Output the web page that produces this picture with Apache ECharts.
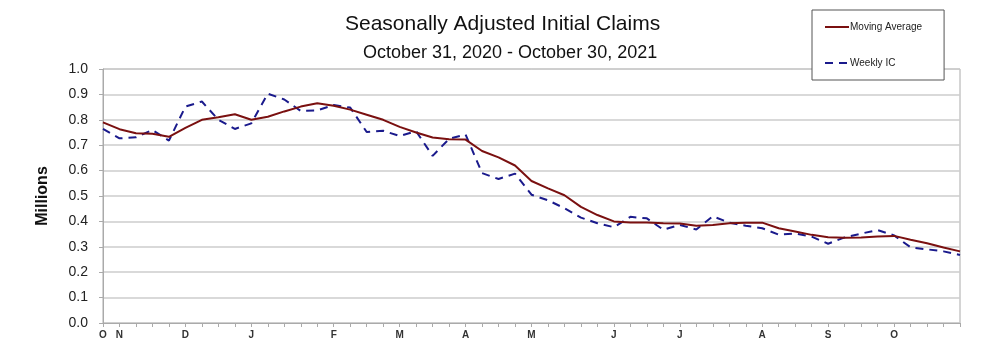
<!DOCTYPE html>
<html>
<head>
<meta charset="utf-8">
<script src="https://cdn.jsdelivr.net/npm/echarts@6/dist/echarts.min.js"></script>
<style>
  html, body { margin: 0; padding: 0; background: #fff; }
  #chart { width: 984px; height: 351px; }
</style>
</head>
<body>
<div id="chart"></div>
<script>
// weekly labels, only month starts carry a letter
const weekLabels = [
  'O', 'N', '', '', '', 'D', '', '', '', 'J', '', '', '', '', 'F', '', '', '', 'M', '', '', '',
  'A', '', '', '', 'M', '', '', '', '', 'J', '', '', '', 'J', '', '', '', '', 'A', '', '', '',
  'S', '', '', '', 'O', '', '', '', ''
];

// millions
const movingAverage = [
  0.790, 0.763, 0.747, 0.745, 0.733, 0.768, 0.800, 0.810, 0.822, 0.800, 0.812, 0.833, 0.852,
  0.865, 0.855, 0.840, 0.820, 0.800, 0.772, 0.750, 0.730, 0.723, 0.722, 0.677, 0.652, 0.620,
  0.559, 0.530, 0.503, 0.457, 0.425, 0.400, 0.396, 0.396, 0.393, 0.392, 0.383, 0.386, 0.393,
  0.395, 0.395, 0.373, 0.360, 0.347, 0.338, 0.336, 0.337, 0.341, 0.343, 0.328, 0.314, 0.297,
  0.282
];

const weeklyIC = [
  0.764, 0.727, 0.731, 0.760, 0.718, 0.852, 0.872, 0.800, 0.764, 0.786, 0.903, 0.880, 0.835,
  0.837, 0.858, 0.848, 0.752, 0.757, 0.736, 0.755, 0.658, 0.725, 0.742, 0.590, 0.567, 0.588,
  0.505, 0.483, 0.452, 0.415, 0.393, 0.377, 0.418, 0.412, 0.367, 0.386, 0.368, 0.420, 0.395,
  0.383, 0.373, 0.348, 0.352, 0.340, 0.312, 0.337, 0.352, 0.366, 0.345, 0.298, 0.290, 0.282,
  0.268
];

const chart = echarts.init(document.getElementById('chart'), null, { renderer: 'canvas' });

const font = 'Liberation Sans, Arial, sans-serif';

chart.setOption({
  animation: false,
  backgroundColor: '#fff',
  textStyle: { fontFamily: font },
  title: [
    {
      text: 'Seasonally Adjusted Initial Claims',
      left: 340,
      top: 9,
      textStyle: { fontSize: 21, fontWeight: 'normal', color: '#111', fontFamily: font }
    },
    {
      text: 'October 31, 2020 - October 30, 2021',
      left: 358,
      top: 39,
      textStyle: { fontSize: 18, fontWeight: 'normal', color: '#111', fontFamily: font }
    }
  ],
  legend: {
    orient: 'vertical',
    left: 812,
    top: 10,
    padding: [12, 22, 12, 12],
    itemGap: 26,
    itemWidth: 24,
    itemHeight: 10,
    borderColor: '#555',
    borderWidth: 1,
    backgroundColor: '#fff',
    itemStyle: { opacity: 0 },
    textStyle: { fontSize: 10, color: '#222', padding: [0, 0, 0, -4] },
    data: ['Moving Average', 'Weekly IC']
  },
  grid: {
    left: 103,
    right: 24,
    top: 69,
    bottom: 28,
    show: true,
    borderColor: '#aaa',
    borderWidth: 1
  },
  xAxis: {
    type: 'category',
    data: weekLabels,
    boundaryGap: false,
    axisLine: { lineStyle: { color: '#aaa', width: 1 } },
    axisTick: { interval: 0, length: 4, lineStyle: { color: '#aaa' } },
    axisLabel: {
      interval: 0,
      fontSize: 10,
      fontWeight: 'bold',
      color: '#333',
      margin: 7
    },
    splitLine: { show: false }
  },
  yAxis: {
    type: 'value',
    min: 0,
    max: 1,
    interval: 0.1,
    name: 'Millions',
    nameLocation: 'middle',
    nameRotate: 90,
    nameGap: 52,
    nameTextStyle: { fontSize: 16, fontWeight: 'bold', color: '#111' },
    axisLine: { show: true, lineStyle: { color: '#aaa' } },
    axisTick: { show: true, length: 4, lineStyle: { color: '#aaa' } },
    axisLabel: {
      fontSize: 14,
      color: '#222',
      margin: 15,
      formatter: (v) => v.toFixed(1)
    },
    splitLine: { lineStyle: { color: '#ccc', width: 1.5 } }
  },
  series: [
    {
      name: 'Moving Average',
      type: 'line',
      data: movingAverage,
      symbol: 'none',
      z: 3,
      lineStyle: { color: '#7a1010', width: 2 },
      itemStyle: { color: '#7a1010' }
    },
    {
      name: 'Weekly IC',
      type: 'line',
      data: weeklyIC,
      symbol: 'none',
      z: 2,
      lineStyle: { color: '#1a1a8c', width: 2, type: [8, 6] },
      itemStyle: { color: '#1a1a8c' }
    }
  ]
});
</script>
</body>
</html>
